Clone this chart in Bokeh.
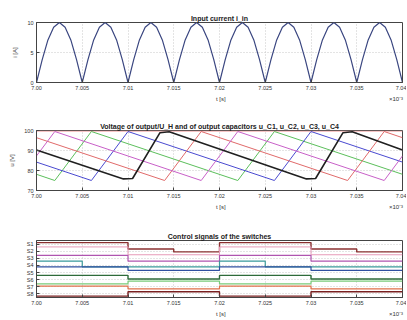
from bokeh.plotting import figure
from bokeh.layouts import column
from bokeh.models import Range1d, FixedTicker
from bokeh.embed import file_html
from bokeh.resources import INLINE

# ---------------- data ----------------
x_ticks = [7.000, 7.005, 7.010, 7.015, 7.020, 7.025, 7.030, 7.035, 7.040]
x_tick_labels = ["7.00", "7.005", "7.01", "7.015", "7.02", "7.025", "7.03", "7.035", "7.04"]
x_label = "t [s]"
x_mult = "\u00d710\u207b\u00b3"

# input current (rectified sine), sampled every 0.625e-3 of the axis unit
t_in = [7.000 + k * 0.000625 for k in range(65)]
i_in = [0, 3.8, 7.1, 9.2, 10, 9.2, 7.1, 3.8,
        0, 3.8, 7.1, 9.2, 10, 9.2, 7.1, 3.8,
        0, 3.8, 7.1, 9.2, 10, 9.2, 7.1, 3.8,
        0, 3.8, 7.1, 9.2, 10, 9.2, 7.1, 3.8,
        0, 3.8, 7.1, 9.2, 10, 9.2, 7.1, 3.8,
        0, 3.8, 7.1, 9.2, 10, 9.2, 7.1, 3.8,
        0, 3.8, 7.1, 9.2, 10, 9.2, 7.1, 3.8,
        0, 3.8, 7.1, 9.2, 10, 9.2, 7.1, 3.8,
        0]

# capacitor voltages (vertices)
t_green = [7.000, 7.002, 7.006, 7.022, 7.026, 7.040]
u_green = [78.1, 75, 99.5, 75, 99.5, 78.1]
t_blue = [7.000, 7.006, 7.010, 7.026, 7.030, 7.040]
u_blue = [84.2, 75, 99.5, 75, 99.5, 84.2]
t_red = [7.000, 7.014, 7.018, 7.034, 7.038, 7.040]
u_red = [96.4, 75, 99.5, 75, 99.5, 96.4]
t_mag = [7.000, 7.002, 7.018, 7.022, 7.038, 7.040]
u_mag = [87.3, 99.5, 75, 99.5, 75, 87.3]
t_black = [7.000, 7.0095, 7.0105, 7.0135, 7.0145, 7.0295, 7.0305, 7.0335, 7.0345, 7.040]
u_black = [90.3, 75.8, 76.0, 98.9, 99.4, 75.8, 76.0, 98.9, 99.4, 90.3]
t_out = [7.000, 7.040]
u_out = [99.7, 99.7]

# control signals, level in each of the 8 intervals
sig_names = ["S1", "S2", "S3", "S4", "S5", "S6", "S7", "S8"]
s_brown = [7.7, 7.7, 6.8, 6.4, 7.7, 7.7, 6.8, 6.4]
s_pink = [7.1, 7.1, 6.0, 6.0, 7.1, 7.1, 6.0, 6.0]
s_magenta = [5.9, 5.9, 5.1, 5.1, 5.9, 5.9, 5.1, 5.1]
s_teal = [5.1, 4.3, 4.3, 4.3, 5.1, 4.3, 4.3, 4.3]
s_blue = [4.3, 4.3, 3.8, 3.8, 4.3, 4.3, 3.8, 3.8]
s_dgreen = [3.1, 3.1, 2.6, 2.6, 3.1, 3.1, 2.6, 2.6]
s_lgreen = [1.9, 1.9, 2.3, 2.3, 1.9, 1.9, 2.3, 2.3]
s_orange = [1.6, 1.6, 1.2, 1.2, 1.6, 1.6, 1.2, 1.2]
s_dred = [0.2, 0.2, 0.8, 0.8, 0.2, 0.2, 0.8, 0.8]

FONT = "Liberation Sans"
W = 406
NB = "\u00a0"
# axis label: "t [s]" centred, exponent note pushed to the right end of the axis
x_axis_text = NB * 108 + x_label + NB * 98 + x_mult


def make_fig(h, top, bottom, title, yr, yticks, ylabel, ylabels=None):
    p = figure(width=W, height=h, output_backend="svg", toolbar_location=None,
               x_range=Range1d(7.000, 7.040), y_range=Range1d(*yr),
               min_border_left=36, min_border_right=W - 402,
               min_border_top=top, min_border_bottom=bottom)
    p.title.text = title
    p.title.align = "center"
    p.title.text_font = FONT
    p.title.text_font_size = "7px"
    p.title.text_font_style = "bold"
    p.title.text_color = "#222222"
    p.title.standoff = 2
    p.title.offset = 0
    p.outline_line_color = "#444444"
    p.outline_line_alpha = 1
    p.background_fill_color = "white"
    p.border_fill_color = "white"
    p.xaxis.ticker = FixedTicker(ticks=x_ticks)
    p.xaxis.major_label_overrides = {v: s for v, s in zip(x_ticks, x_tick_labels)}
    p.yaxis.ticker = FixedTicker(ticks=yticks)
    if ylabels:
        p.yaxis.major_label_overrides = {v: s for v, s in zip(yticks, ylabels)}
    for ax in (p.xaxis, p.yaxis):
        ax.major_tick_in = 3
        ax.major_tick_out = 0
        ax.minor_tick_line_color = None
        ax.axis_line_color = "#444444"
        ax.major_tick_line_color = "#444444"
        ax.major_label_text_font = FONT
        ax.major_label_text_font_size = "5.5px"
        ax.major_label_text_color = "#333333"
        ax.major_label_standoff = 3
        ax.axis_label_text_font = FONT
        ax.axis_label_text_font_size = "6px"
        ax.axis_label_text_font_style = "normal"
        ax.axis_label_text_color = "#333333"
        ax.axis_label_standoff = 3
    p.xaxis.axis_label = x_axis_text
    p.yaxis.axis_label = ylabel
    p.yaxis.axis_label_standoff = 6
    p.grid.grid_line_color = "#c8c8c8"
    p.grid.grid_line_dash = "1 2"
    return p


# ---- plot 1 ---- (canvas 0..106)
p1 = make_fig(106, 22, 24, "Input current i_in", (0, 10), [0, 5, 10], "i [A]")
p1.line(t_in, i_in, line_color="#3a4680", line_width=1.2)

# ---- plot 2 ---- (canvas 106..212)
p2 = make_fig(106, 24, 22,
              "Voltage of output/U_H and of output capacitors u_C1, u_C2, u_C3, u_C4",
              (70, 100), [70, 80, 90, 100], "u [V]")
p2.line(t_out, u_out, line_color="#f0a0a0", line_width=1)
p2.line(t_green, u_green, line_color="#5cbf5c", line_width=1)
p2.line(t_blue, u_blue, line_color="#4a4ad0", line_width=1)
p2.line(t_red, u_red, line_color="#e06a6a", line_width=1)
p2.line(t_mag, u_mag, line_color="#c860c8", line_width=1)
p2.line(t_black, u_black, line_color="#202020", line_width=1.6)

# ---- plot 3 ---- (canvas 212..319)
p3 = make_fig(107, 28, 20, "Control signals of the switches", (0, 8),
              [0.5, 1.5, 2.5, 3.5, 4.5, 5.5, 6.5, 7.5], "",
              ylabels=sig_names[::-1])
sig_series = [(s_brown, "#8b3030", 1.4), (s_pink, "#e79ab8", 1), (s_magenta, "#b055b0", 1.2),
              (s_teal, "#3a9a9a", 1.2), (s_blue, "#3050a0", 1.2), (s_dgreen, "#2e6b3a", 1.4),
              (s_lgreen, "#7acb7a", 1.2), (s_orange, "#e0704a", 1.2), (s_dred, "#7a2020", 1.4)]
for levels, col, lw in sig_series:
    p3.step(x_ticks, levels + levels[-1:], mode="after", line_color=col, line_width=lw)

layout = column(p1, p2, p3, spacing=0)
open("out.html", "w").write(file_html(layout, INLINE))
